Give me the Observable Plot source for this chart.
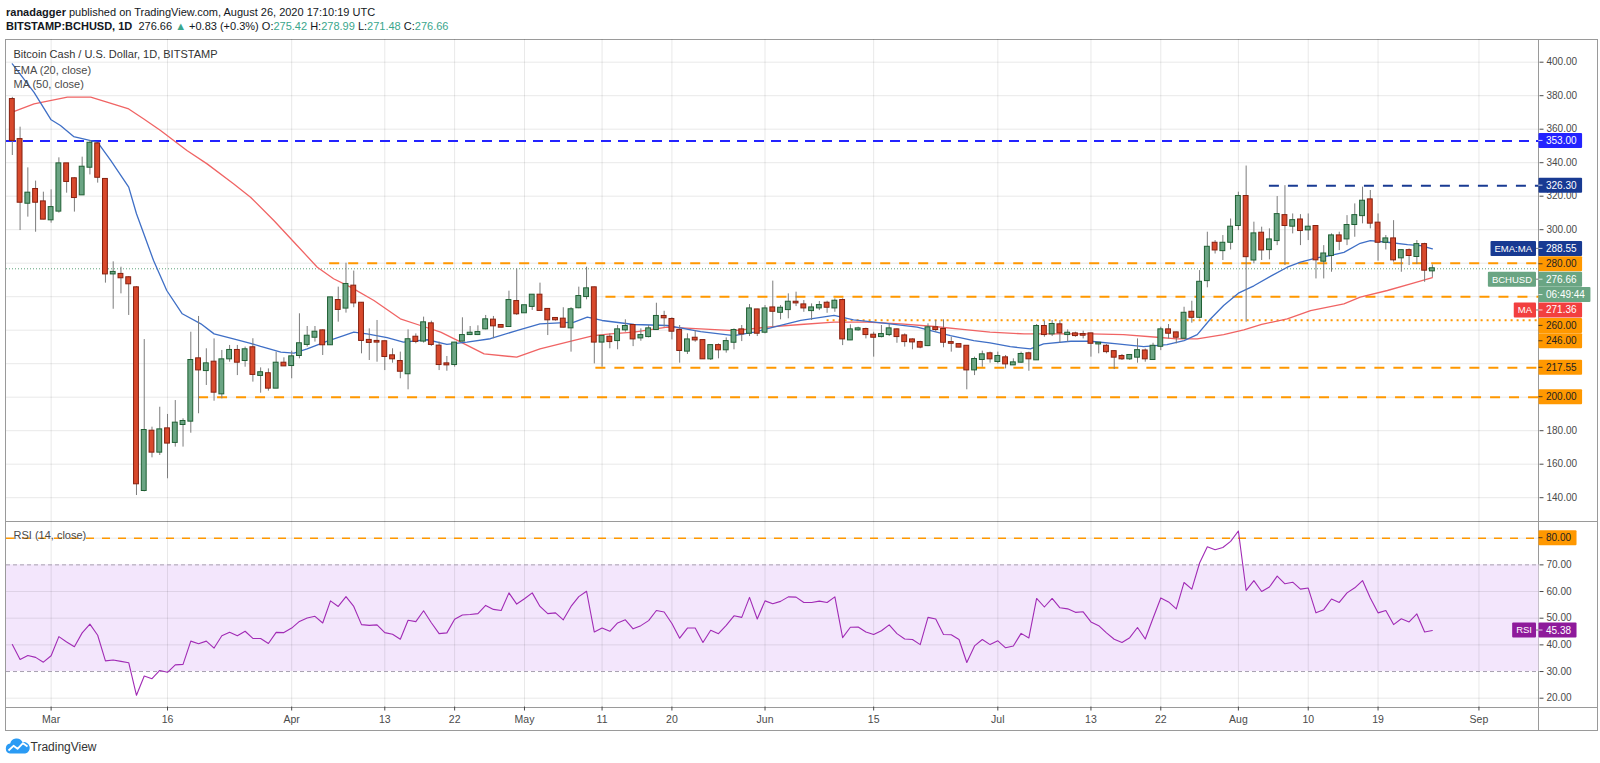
<!DOCTYPE html>
<html><head><meta charset="utf-8">
<script src="https://cdn.jsdelivr.net/npm/d3@7"></script>
<script src="https://cdn.jsdelivr.net/npm/@observablehq/plot@0.6"></script>
<style>
html,body{margin:0;padding:0;background:#fff;}
#root{position:relative;width:1600px;height:763px;overflow:hidden;font-family:'Liberation Sans',Arial,sans-serif;color:#131722;}
.abs{position:absolute;}
.hdr{position:absolute;left:6px;white-space:nowrap;font-size:11px;line-height:14px;}
.leg{position:absolute;left:13.5px;white-space:nowrap;font-size:11px;line-height:14px;color:#4a4a4a;}
.teal{color:#3aa68c;}
.hl{position:absolute;height:1px;background:#9a9a9a;}
.vl{position:absolute;width:1px;background:#9a9a9a;}
</style></head>
<body><div id="root">
<div class="hdr" id="h1" style="top:4.5px"><b>ranadagger</b> published on TradingView.com, August 26, 2020 17:10:19 UTC</div>
<div class="hdr" id="h2" style="top:19px"></div>
<div class="hl" style="left:5px;top:38.5px;width:1592px;"></div>
<div class="hl" style="left:5px;top:730px;width:1592px;"></div>
<div class="vl" style="left:5px;top:38.5px;height:692px;"></div>
<div class="vl" style="left:1597px;top:38.5px;height:692px;"></div>
<div class="hl" style="left:5px;top:520.5px;width:1592px;"></div>
<div class="hl" style="left:5px;top:706.5px;width:1592px;"></div>
<div class="vl" style="left:1538px;top:38.5px;height:692px;"></div>
<div class="abs" id="plotA" style="left:0;top:39px;"></div>
<div class="abs" id="plotB" style="left:0;top:521px;"></div>
<div class="leg" style="top:46.7px;color:#333;">Bitcoin Cash / U.S. Dollar, 1D, BITSTAMP</div>
<div class="leg" style="top:62.5px;">EMA (20, close)</div>
<div class="leg" style="top:77.3px;">MA (50, close)</div>
<div class="leg" style="top:528.3px;">RSI (14, close)</div>
<div class="abs" style="left:5px;top:738px;">
<svg width="26" height="16" viewBox="0 0 26 16"><path d="M5 15.5 A5 5 0 0 1 5.2 5.6 A6.6 6.6 0 0 1 17.6 4.2 A5.6 5.6 0 1 1 20.2 15.5 Z" fill="#2b9bf4"/><polyline points="3.5,12.5 8.5,7.8 12.5,10.8 18,5.2 22.5,8.5" fill="none" stroke="#fff" stroke-width="1.8" stroke-linejoin="round"/></svg>
</div>
<div class="abs" style="left:30.5px;top:739px;font-size:12px;line-height:16px;color:#333;">TradingView</div>
</div>
<script>
// ---------------- DATA ----------------
const candleStart = "2020-02-25";
const open = [377.7,353.8,315.8,324.0,316.6,
305.9,311.1,339.3,330.4,320.8,337.3,351.2,330.0,273.6,273.3,
271.3,265.3,144.3,179.7,167.2,181.1,173.0,183.7,185.7,222.9,
215.9,220.9,202.0,222.9,227.9,221.9,229.5,213.0,214.0,205.4,
220.3,218.9,224.9,231.5,235.8,239.6,231.3,257.7,253.2,266.3,
256.1,233.9,233.3,233.1,224.7,221.3,214.0,235.8,233.5,243.8,
230.5,219.9,219.5,233.5,237.4,237.4,240.8,246.0,242.8,242.2,
257.1,250.4,254.2,260.9,252.4,247.0,246.6,241.4,253.4,260.1,
265.3,232.9,235.8,233.8,240.2,242.8,235.4,236.2,240.4,248.2,
246.4,239.8,227.5,235.2,233.8,222.9,230.8,228.3,232.8,240.2,
238.2,252.1,238.8,253.3,250.7,252.3,256.7,255.1,251.7,253.3,
256.1,253.3,257.7,234.2,240.2,240.4,237.0,236.2,237.4,240.2,
236.6,234.2,232.6,230.8,241.4,240.4,232.6,231.4,230.4,216.3,
222.5,225.9,221.3,223.5,219.3,220.9,225.9,222.3,242.2,237.8,
243.2,237.4,237.8,237.4,237.8,231.8,230.4,227.2,224.3,222.9,
223.9,227.6,222.5,230.4,240.2,238.4,235.2,250.7,247.7,269.6,
291.9,287.5,292.5,302.5,319.8,281.9,297.9,288.1,293.5,308.4,
302.1,305.8,299.9,301.9,281.2,284.6,296.3,294.5,303.1,308.4,
317.8,303.9,292.5,294.5,283.2,287.5,284.0,291.1,275.42];
const high = [379.0,361.2,336.9,329.0,322.4,
323.8,342.9,339.5,331.0,343.3,353.2,352.0,330.5,280.8,277.6,
272.0,266.0,234.4,182.1,194.0,189.7,198.0,187.1,238.8,248.2,
228.9,234.8,227.9,230.9,230.9,229.9,234.9,217.5,216.9,226.9,
223.5,227.5,249.8,242.2,242.2,240.2,259.5,265.7,280.0,275.3,
256.5,240.8,245.8,233.5,228.9,226.9,240.2,237.8,247.8,245.4,
232.9,224.3,232.5,247.4,242.2,242.6,248.8,248.2,243.2,263.3,
276.6,254.8,261.3,268.1,252.8,247.4,253.4,253.4,265.7,277.6,
265.7,236.6,237.8,242.8,246.2,243.2,240.8,242.8,256.1,251.3,
247.4,242.8,237.8,239.8,234.2,231.2,231.8,235.4,240.8,242.8,
255.3,252.5,254.7,269.3,254.7,261.7,262.7,257.7,255.7,257.1,
257.3,258.7,258.7,243.2,241.8,241.2,238.8,242.8,243.4,240.8,
237.8,234.8,233.4,243.8,245.8,246.2,235.8,231.8,230.6,223.9,
227.5,226.9,226.9,224.9,222.9,226.9,226.9,243.4,245.4,245.8,
245.8,240.2,238.8,239.4,238.2,232.4,231.4,227.8,225.5,225.5,
234.8,228.8,232.2,241.8,243.4,238.8,253.7,257.3,275.6,298.5,
293.5,296.5,306.4,322.4,338.0,304.5,301.5,300.5,319.8,326.3,
309.4,309.0,309.4,302.5,290.5,297.5,298.5,308.4,315.4,325.4,
323.4,309.4,296.5,305.4,287.9,288.5,293.5,291.9,278.99];
const low = [344.3,299.5,307.5,298.5,305.9,
303.9,309.9,321.8,310.5,320.5,332.7,327.8,268.1,252.5,261.7,
248.8,141.3,143.5,163.8,165.2,151.3,170.2,170.2,178.5,190.1,
207.0,197.6,199.0,220.9,212.9,217.9,209.0,202.4,203.6,205.4,
218.5,211.0,222.9,229.9,232.9,224.9,231.0,244.8,250.2,253.4,
225.9,221.9,220.9,215.9,220.3,211.0,204.4,231.9,232.3,230.3,
215.9,215.5,217.9,232.9,236.8,236.8,240.2,234.9,241.4,241.8,
248.8,250.2,251.8,251.4,236.8,245.4,241.4,226.9,252.8,258.1,
219.9,217.9,228.9,228.3,238.8,230.2,233.4,235.4,240.2,241.8,
234.2,220.3,225.5,232.8,222.5,221.9,222.9,226.3,228.3,233.2,
236.2,236.2,237.8,241.8,246.2,246.8,254.1,250.7,245.8,251.7,
250.1,250.7,230.8,233.8,239.4,234.8,223.9,235.4,236.2,232.2,
229.9,228.3,228.9,230.2,238.8,229.5,226.9,229.5,204.4,212.9,
217.9,220.3,219.9,216.9,218.9,220.3,215.5,221.9,235.8,236.2,
232.2,232.8,235.8,234.8,223.9,225.9,225.9,216.5,221.9,221.9,
220.3,220.9,222.3,227.8,234.8,231.8,234.8,244.2,246.7,265.3,
285.5,281.6,287.9,299.5,244.8,279.6,281.6,282.0,290.5,278.6,
297.5,290.5,293.5,270.6,270.6,274.6,287.5,290.5,295.5,303.5,
300.5,281.2,287.9,280.6,274.6,278.6,279.2,268.6,271.48];
const close = [353.3,316.4,321.8,316.4,306.3,
313.2,339.3,328.8,319.2,337.3,351.6,331.3,273.6,274.5,271.3,
267.7,148.3,180.1,167.2,180.5,172.6,184.5,185.5,221.9,216.3,
219.9,203.0,222.3,227.9,220.9,228.3,213.6,214.6,205.4,220.3,
218.7,224.1,231.9,236.4,238.8,231.3,259.3,252.4,267.3,256.3,
233.9,232.7,232.9,224.3,222.9,215.5,234.3,233.3,244.4,231.5,
219.5,219.3,232.3,236.8,238.2,238.6,246.2,242.6,241.8,257.7,
249.8,254.6,260.9,251.8,246.2,246.2,241.8,252.2,260.1,264.7,
232.9,236.3,233.2,240.2,242.2,234.8,236.8,240.8,248.2,247.4,
239.4,227.9,234.2,234.2,222.9,230.8,228.3,233.2,239.8,237.8,
252.7,238.2,252.7,251.3,253.1,256.7,256.3,253.3,253.3,254.7,
253.7,257.3,234.8,240.2,240.8,237.4,235.8,237.4,240.8,236.2,
233.2,233.0,229.9,241.4,240.4,232.8,232.2,229.9,216.3,222.5,
225.3,222.9,224.3,219.9,220.5,225.5,222.9,242.2,237.4,243.4,
238.4,238.2,236.8,237.0,232.2,232.2,227.2,223.9,222.9,224.9,
227.8,222.9,230.4,240.2,238.2,235.8,250.1,247.7,268.6,289.5,
287.9,291.9,301.5,319.8,283.9,297.5,287.9,293.9,309.0,302.5,
305.4,299.5,301.5,282.0,285.5,296.3,293.1,302.5,308.4,317.0,
303.9,292.5,294.5,282.0,287.5,284.6,291.1,275.83,276.66];
const rsi = [40.1,34.5,36.0,35.3,33.5,
35.9,43.1,41.1,39.3,44.5,47.8,43.6,34.0,34.3,33.8,
33.3,21.1,28.3,27.3,30.4,29.7,32.5,32.7,41.4,40.4,
41.4,38.8,43.4,44.7,43.4,45.1,42.4,42.4,40.5,44.7,
44.6,46.3,48.8,50.1,50.7,48.2,56.5,54.4,58.1,54.4,
47.6,47.3,47.5,44.6,44.0,42.1,49.2,48.7,52.8,48.3,
44.2,44.5,49.6,51.2,51.4,51.7,54.8,53.3,52.9,59.5,
55.3,57.3,59.5,54.4,51.7,52.0,49.4,54.4,58.1,60.1,
44.8,46.3,45.1,48.2,49.4,46.0,47.2,49.1,52.9,52.3,
48.0,42.5,46.3,46.3,40.9,45.5,44.2,47.3,50.9,50.3,
57.8,49.7,56.5,55.4,56.3,58.0,57.9,55.9,55.9,56.4,
55.9,58.0,42.7,46.6,46.7,44.8,43.9,45.3,47.5,44.2,
42.2,42.0,40.1,50.3,49.7,43.9,43.8,42.0,33.4,39.6,
42.0,40.1,41.5,38.9,39.6,44.3,42.6,57.4,54.2,57.4,
53.9,53.5,52.2,52.4,48.6,47.2,44.5,42.1,40.9,42.7,
46.5,42.2,50.0,57.6,56.1,53.5,63.4,60.9,70.7,76.8,
75.7,76.5,78.8,82.7,60.4,64.1,60.0,61.7,65.8,62.9,
63.5,60.9,61.3,52.0,53.2,57.2,55.9,59.5,61.4,64.1,
57.6,52.0,52.9,47.6,49.8,48.6,51.6,44.8,45.38];
// EMA(20) and MA(50): day offset from 1 Mar 2020, value
const emaDay = [-5,-2.2,0,1.2,2.9,4.7,6,7.7,10,11,13.2,14.9,16.9,19.3,21,23.5,25.7,27,29.6,31.3,33,35.6,37.7,39,40.7,43.3,45.4,48.5,51,53.6,56.6,60,63,67.4,69.1,71,75.1,79.4,83.7,88,90.6,93.1,96.6,100.9,103.4,107.3,111.6,115.9,118.9,121,123.6,126.2,127.9,131.4,133.9,137.4,140.8,143.8,146,147.7,149.4,151.1,153,155,157.3,159.3,161,163.1,164.9,166.6,168.7,170,172.2,174.8,176.5,178];
const emaVal = [399,382,365.6,362.2,355.6,353.6,352.2,341.3,325.4,309.5,281.6,263.7,249.8,243.8,237.8,234.8,232.2,230.3,226.9,226.3,228.9,233.5,236.8,238.8,237.8,235.5,232.9,234.3,231.5,232.9,234.9,239.8,243.8,244.8,247.8,245.8,243.4,242.8,239.2,236.8,238.8,241.8,245.8,248.8,246.2,244.2,241.8,236.8,233.8,232.4,230.2,228.8,231.8,233.4,233.4,231.8,230.2,231.4,233.8,237.4,246.7,254.7,262.1,266.5,272.6,277.6,280.6,283.2,284.6,286.5,291.9,293.5,292.5,291.1,290.5,288.55];
const maDay = [-5,-2.2,2.1,5.1,7.2,10,11.9,14.1,15.8,17.5,20.1,23.5,25.7,28.7,31.7,34.3,36.4,38.6,41.6,45,47.6,50.2,52.8,55.8,60,63,67.4,69.9,72.1,75.1,79.4,83.7,88,92.3,96.6,100.9,105.2,109.5,113.8,118.1,121,125.4,129.7,134,138.2,142.5,145.1,147.7,151.1,153.7,156,159.3,162.3,166.6,168.7,172.2,175.2,178];
const maVal = [370.2,375.1,379.1,379.1,376.1,372.1,366.2,359.2,353.2,347.3,339.3,327.4,319.4,305.5,290.6,277.6,270.7,265.7,257.7,246.8,242.8,238.8,232.9,225.9,223.9,228.9,233.9,236.8,237.8,238.8,241.8,240.8,239.8,241.8,243.4,244.8,244.8,243.8,242.2,240.2,238.8,237.8,237.8,237.8,237.4,235.8,234.8,234.8,237.4,240.2,243.5,246.7,251.7,255.7,259.7,263.7,267.6,271.36];
// horizontal levels drawn on the chart, with the day (from 1 Mar) where each starts
const levelValues = [353, 326.3, 280, 260, 246, 217.55, 200];
const levelStartDay = [-5.75, 157, 35.9, 71.5, 100, 70.2, 19];
const rsiLevels = {upper: 70, lower: 30, alert: 80};
const countdownText = "06:49:44";
const tickDates = ["2020-03-01","2020-03-16","2020-04-01","2020-04-13","2020-04-22","2020-05-01","2020-05-11","2020-05-20","2020-06-01","2020-06-15","2020-07-01","2020-07-13","2020-07-22","2020-08-01","2020-08-10","2020-08-19","2020-09-01"];
const tickLabels = ["Mar","16","Apr","13","22","May","11","20","Jun","15","Jul","13","22","Aug","10","19","Sep"];
const priceTicks = d3.range(140, 401, 20);
const rsiTicks = d3.range(20, 81, 10);

// ---------------- STYLE ----------------
const FONT = "'Liberation Sans', Arial, sans-serif";
const C = {
  upFill: "#6ba584", upStroke: "#1f5f33", dnFill: "#d8492c", dnStroke: "#86200f", wick: "#7c7c7c",
  ema: "#3f6fc6", ma: "#f06464", orange: "#ff9800", blue: "#2323ff", navy: "#183a92",
  green: "#6aa583", red: "#f23f3f", purple: "#8e1a9b", rsi: "#a12bb5", band: "#f3e6fc",
  grid: "#000", text: "#4a4a4a"
};
const levelStyle = [
  {stroke: C.blue, dash: "10,7", bg: C.blue, fg: "#fff"},
  {stroke: C.navy, dash: "10,9", bg: C.navy, fg: "#fff"},
  {stroke: C.orange, dash: "10,9", bg: C.orange, fg: "#222"},
  {stroke: C.orange, dash: "10,9", bg: C.orange, fg: "#222"},
  {stroke: C.orange, dash: "2,4", bg: C.orange, fg: "#222"},
  {stroke: C.orange, dash: "10,9", bg: C.orange, fg: "#222"},
  {stroke: C.orange, dash: "10,9", bg: C.orange, fg: "#222"}
];

// ---------------- BUILD ----------------
const DAY = 864e5, MAR1 = Date.UTC(2020, 2, 1);
const dayDate = d => new Date(MAR1 + d * DAY);
const xDomain = [dayDate(-5.75), dayDate(191.74)];
const W = 1600, ML = 6, MR = 61.5;
const candles = open.map((o, i) => {
  const date = d3.utcDay.offset(new Date(candleStart), i);
  return {date, open: o, high: high[i], low: low[i], close: close[i], rsi: rsi[i], up: close[i] >= o};
});
const ema = emaDay.map((d, i) => ({date: dayDate(d), v: emaVal[i]}));
const ma = maDay.map((d, i) => ({date: dayDate(d), v: maVal[i]}));
const levels = levelValues.map((v, i) => ({v, start: dayDate(levelStartDay[i]), end: xDomain[1], ...levelStyle[i]}));
const last = candles[candles.length - 1], prev = candles[candles.length - 2];
const fmt = d3.format(".2f");

// header line 2 from data
const chg = last.close - prev.close;
document.getElementById("h2").innerHTML =
  `<b>BITSTAMP:BCHUSD, 1D</b>&nbsp; ${fmt(last.close)} <span class="teal">▲</span> ${chg >= 0 ? "+" : ""}${fmt(chg)} (${chg >= 0 ? "+" : ""}${(chg / prev.close * 100).toFixed(1)}%) O:<span class="teal">${fmt(last.open)}</span> H:<span class="teal">${fmt(last.high)}</span> L:<span class="teal">${fmt(last.low)}</span> C:<span class="teal">${fmt(last.close)}</span>`;

const ctx2d = document.createElement("canvas").getContext("2d");
const textW = (t, f) => { ctx2d.font = f; return ctx2d.measureText(t).width; };
const VAL_FONT = `10px ${FONT}`, TAG_FONT = `9.5px ${FONT}`;
const BOX_H = 15, STEP = 15.4;

function layout(items, ys) {
  const arr = items.map((d, i) => ({...d, i, ny: ys(d.value)}));
  arr.sort((a, b) => a.ny - b.ny || a.i - b.i);
  let p = -Infinity;
  for (const d of arr) { d.cy = Math.max(d.ny, p + STEP); p = d.cy; }
  return arr;
}
function boxMark(items) {
  return (index, scales, values, dims) => {
    const x0 = dims.width - dims.marginRight;
    const g = d3.create("svg:g").attr("font-family", FONT).attr("text-anchor", "start");
    for (const d of layout(items, scales.y)) {
      const w = textW(d.text, VAL_FONT) + 13;
      g.append("rect").attr("x", x0).attr("y", d.cy - BOX_H / 2).attr("width", w).attr("height", BOX_H).attr("fill", d.bg).attr("rx", 1);
      g.append("line").attr("x1", x0).attr("x2", x0 + 4).attr("y1", d.cy).attr("y2", d.cy).attr("stroke", d.fg).attr("stroke-opacity", 0.8);
      g.append("text").attr("x", x0 + 7.5).attr("y", d.cy).attr("dy", "0.35em").attr("text-anchor", "start").attr("font-size", 10).attr("fill", d.fg).text(d.text);
      if (d.tag) {
        const tw = textW(d.tag, TAG_FONT) + 8;
        g.append("rect").attr("x", x0 - 2.5 - tw).attr("y", d.cy - BOX_H / 2).attr("width", tw).attr("height", BOX_H).attr("fill", d.bg).attr("rx", 1);
        g.append("text").attr("x", x0 - 2.5 - tw / 2).attr("y", d.cy).attr("dy", "0.35em").attr("text-anchor", "middle").attr("font-size", 9.5).attr("fill", "#fff").text(d.tag);
        g.append("line").attr("x1", x0 - 2.5).attr("x2", x0).attr("y1", d.cy).attr("y2", d.cy).attr("stroke", "#777");
      }
    }
    return g.node();
  };
}
const visibleTicks = (ticks, items, scale) => {
  const laid = layout(items, v => scale.apply(v));
  return ticks.filter(t => laid.every(b => Math.abs(scale.apply(t) - b.cy) > 10));
};

// ---- price panel ----
const yA = {domain: [125.79, 413.55], range: [482, 0]};
const priceItems = [
  {value: levelValues[0], text: fmt(levelValues[0]), bg: levelStyle[0].bg, fg: levelStyle[0].fg},
  {value: levelValues[1], text: fmt(levelValues[1]), bg: levelStyle[1].bg, fg: levelStyle[1].fg},
  {value: emaVal[emaVal.length - 1], text: fmt(emaVal[emaVal.length - 1]), bg: C.navy, fg: "#fff", tag: "EMA:MA"},
  {value: levelValues[2], text: fmt(levelValues[2]), bg: levelStyle[2].bg, fg: levelStyle[2].fg},
  {value: last.close, text: fmt(last.close), bg: C.green, fg: "#fff", tag: "BCHUSD"},
  {value: last.close, text: countdownText, bg: C.green, fg: "#fff"},
  {value: maVal[maVal.length - 1], text: fmt(maVal[maVal.length - 1]), bg: C.red, fg: "#fff", tag: "MA"},
  {value: levelValues[3], text: fmt(levelValues[3]), bg: levelStyle[3].bg, fg: levelStyle[3].fg},
  {value: levelValues[4], text: fmt(levelValues[4]), bg: levelStyle[4].bg, fg: levelStyle[4].fg},
  {value: levelValues[5], text: fmt(levelValues[5]), bg: levelStyle[5].bg, fg: levelStyle[5].fg},
  {value: levelValues[6], text: fmt(levelValues[6]), bg: levelStyle[6].bg, fg: levelStyle[6].fg}
];
const sA = Plot.scale({y: yA});
const tickD = tickDates.map(s => new Date(s));
const half = DAY / 2;

const plotA = Plot.plot({
  width: W, height: 482, marginLeft: ML, marginRight: MR, marginTop: 0, marginBottom: 0,
  style: {background: "transparent", fontFamily: FONT, fontSize: "10px", overflow: "visible"},
  x: {type: "utc", domain: xDomain, axis: null},
  y: {...yA, axis: null},
  marks: [
    Plot.gridX(tickD, {stroke: C.grid, strokeOpacity: 0.09}),
    Plot.gridY(priceTicks, {stroke: C.grid, strokeOpacity: 0.09}),
    ...levels.map(l => Plot.ruleY([l], {y: "v", x1: "start", x2: "end", stroke: l.stroke, strokeWidth: 2, strokeDasharray: l.dash})),
    Plot.ruleY([last], {y: "close", stroke: "#5fa37b", strokeWidth: 1, strokeDasharray: "1,2"}),
    Plot.line(ma, {x: "date", y: "v", stroke: C.ma, strokeWidth: 1.3}),
    Plot.line(ema, {x: "date", y: "v", stroke: C.ema, strokeWidth: 1.3}),
    Plot.ruleX(candles, {x: "date", y1: "low", y2: "high", stroke: C.wick, strokeWidth: 1}),
    Plot.rect(candles, {
      x1: d => new Date(+d.date - half), x2: d => new Date(+d.date + half),
      y1: "open", y2: "close", insetLeft: 1.45, insetRight: 1.45, insetTop: -0.5, insetBottom: -0.5,
      fill: d => d.up ? C.upFill : C.dnFill, stroke: d => d.up ? C.upStroke : C.dnStroke, strokeWidth: 1
    }),
    Plot.axisY(visibleTicks(priceTicks, priceItems, sA), {anchor: "right", tickSize: 4, tickPadding: 3.5, tickFormat: fmt, fontSize: 10, color: C.text, label: null}),
    boxMark(priceItems)
  ]
});
document.getElementById("plotA").appendChild(plotA);

// ---- RSI panel ----
const yB = {domain: [16.7, 86.26], range: [185.5, 0]};
const sB = Plot.scale({y: yB});
const rsiItems = [
  {value: rsiLevels.alert, text: fmt(rsiLevels.alert), bg: C.orange, fg: "#222"},
  {value: last.rsi, text: fmt(last.rsi), bg: C.purple, fg: "#fff", tag: "RSI"}
];
const labelMap = new Map(tickD.map((d, i) => [+d, tickLabels[i]]));
const plotB = Plot.plot({
  width: W, height: 214, marginLeft: ML, marginRight: MR, marginTop: 0, marginBottom: 28.5,
  style: {background: "transparent", fontFamily: FONT, fontSize: "10px", overflow: "visible"},
  x: {type: "utc", domain: xDomain, axis: null},
  y: {...yB, axis: null},
  marks: [
    Plot.rect([{x1: xDomain[0], x2: xDomain[1], y1: rsiLevels.lower, y2: rsiLevels.upper}], {x1: "x1", x2: "x2", y1: "y1", y2: "y2", fill: C.band}),
    Plot.gridX(tickD, {stroke: C.grid, strokeOpacity: 0.09}),
    Plot.gridY(rsiTicks.filter(t => t !== rsiLevels.upper && t !== rsiLevels.lower), {stroke: C.grid, strokeOpacity: 0.09}),
    Plot.ruleY([rsiLevels.upper, rsiLevels.lower], {stroke: "#a8a0b0", strokeDasharray: "4,3", strokeWidth: 1}),
    Plot.ruleY([rsiLevels.alert], {stroke: C.orange, strokeWidth: 1.6, strokeDasharray: "8,8"}),
    Plot.line(candles, {x: "date", y: "rsi", stroke: C.rsi, strokeWidth: 1.1}),
    Plot.axisX(tickD, {anchor: "bottom", tickSize: 4, tickPadding: 5, tickFormat: d => labelMap.get(+d), fontSize: 10.5, color: C.text, label: null}),
    Plot.axisY(visibleTicks(rsiTicks, rsiItems, sB), {anchor: "right", tickSize: 4, tickPadding: 3.5, tickFormat: fmt, fontSize: 10, color: C.text, label: null}),
    boxMark(rsiItems)
  ]
});
document.getElementById("plotB").appendChild(plotB);
</script>
</body></html>
